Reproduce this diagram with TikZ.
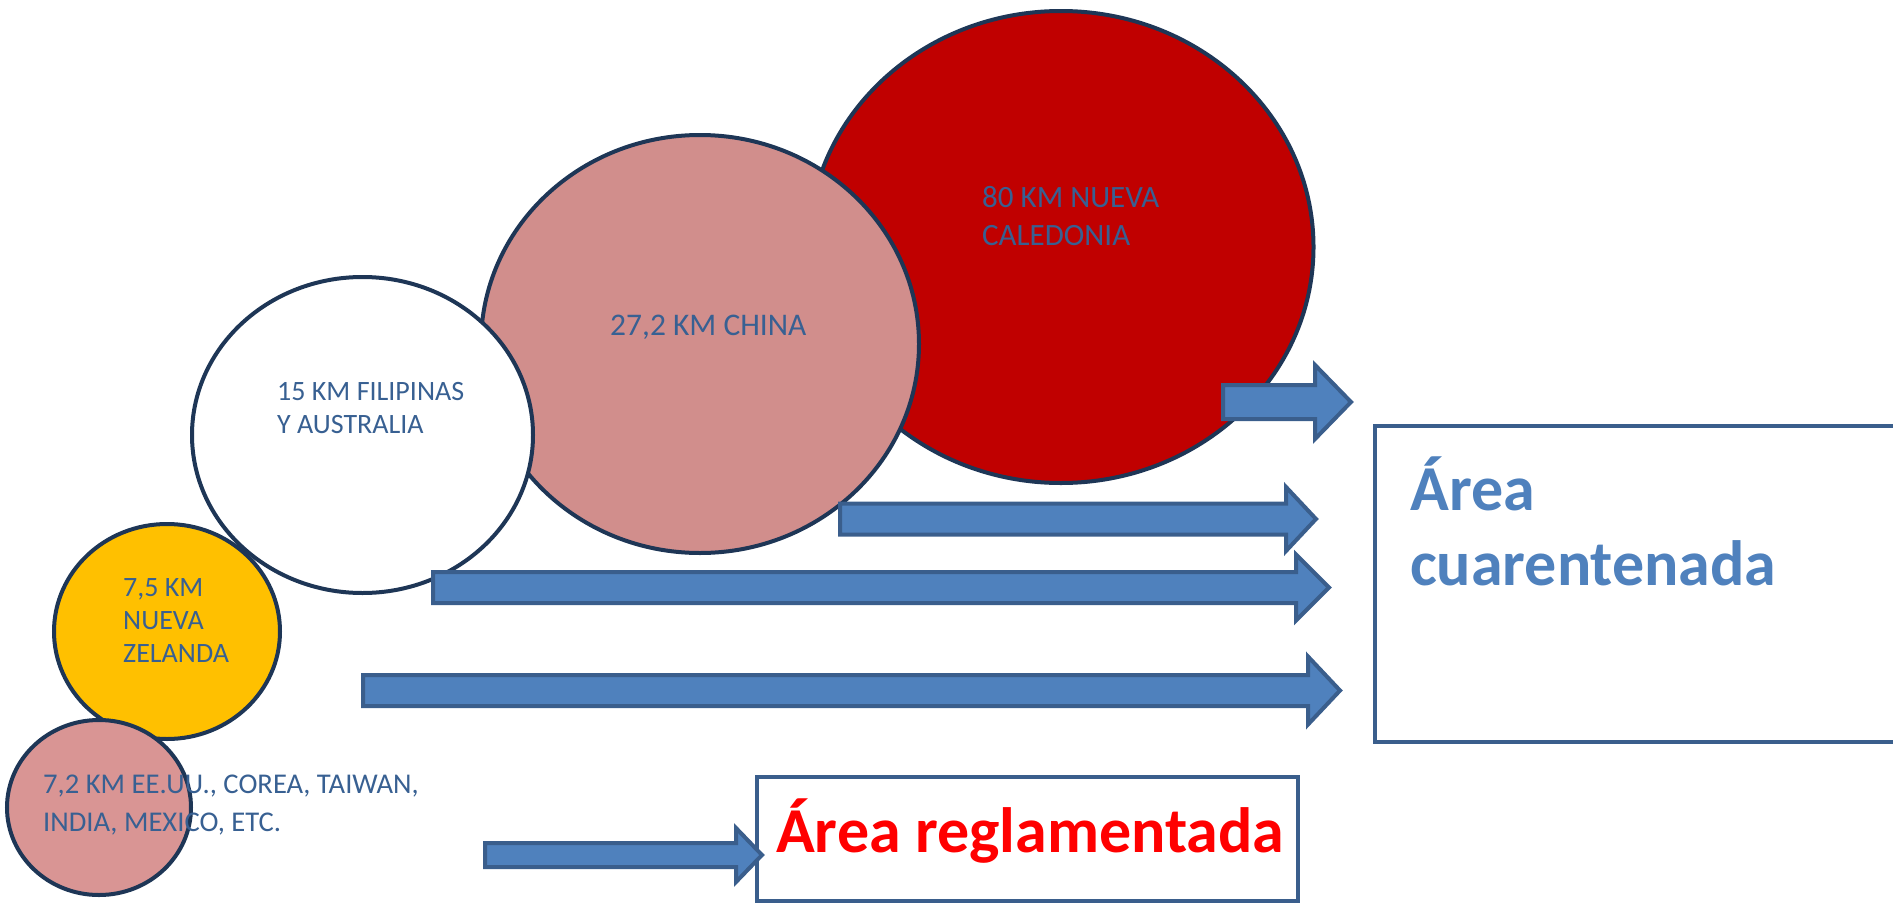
\documentclass[tikz,border=0pt]{standalone}
\usepackage{fontspec}
\setmainfont{Carlito}
\usetikzlibrary{shapes.geometric}
\definecolor{ellline}{RGB}{30,54,86}
\definecolor{redfill}{RGB}{192,0,0}
\definecolor{chinafill}{RGB}{209,142,140}
\definecolor{pinkfill}{RGB}{217,149,148}
\definecolor{yellowfill}{RGB}{255,192,0}
\definecolor{labeltext}{RGB}{56,96,146}
\definecolor{arrowfill}{RGB}{79,129,189}
\definecolor{arrowline}{RGB}{58,94,140}
\definecolor{titleblue}{RGB}{79,129,189}
\definecolor{titlered}{RGB}{255,0,0}
\tikzset{
  blob/.style={ellipse, draw=ellline, line width=4pt, inner sep=0pt},
  lbl/.style={anchor=base west, inner sep=0pt, text=labeltext, font=\fontsize{28}{33}\selectfont, align=left},
  bigtitle/.style={anchor=base west, inner sep=0pt, font=\bfseries\fontsize{64}{75}\selectfont, align=left},
  areabox/.style={draw=arrowline, line width=4pt, fill=white},
  blockarrow/.style={draw=arrowline, fill=arrowfill, line width=4pt, line join=miter}
}
% #1 left x, #2 centre y, #3 body half height, #4 head base x, #5 head half height, #6 tip x
\newcommand\blockarr[6]{%
  \path[blockarrow] (#1,#2-#3) -- (#4,#2-#3) -- (#4,#2-#5) -- (#6,#2) -- (#4,#2+#5) -- (#4,#2+#3) -- (#1,#2+#3) -- cycle;}
\begin{document}
\begin{tikzpicture}[x=1pt,y=-1pt]
\useasboundingbox (0,0) rectangle (1893,905);
% ellipses
\node[blob, fill=redfill, minimum width=505pt, minimum height=472pt] (nc) at (1061,247) {};
\node[blob, fill=chinafill, minimum width=438pt, minimum height=418pt] (cn) at (700,344) {};
\node[blob, fill=white, minimum width=341pt, minimum height=316pt] (ph) at (362.5,435) {};
\node[blob, fill=yellowfill, minimum width=226pt, minimum height=215pt] (nz) at (167,631.5) {};
\node[blob, fill=pinkfill, minimum width=184pt, minimum height=175pt] (us) at (99,807.5) {};
% labels (anchored at the baseline of the last line)
\node[lbl, font=\fontsize{31}{38}\selectfont] (tnc) at (982,245) {80 KM NUEVA\\CALEDONIA};
\node[lbl, font=\fontsize{31.5}{38}\selectfont] (tcn) at (610,335) {27,2 KM CHINA};
\node[lbl] (tph) at (277,433) {15 KM FILIPINAS\\Y AUSTRALIA};
\node[lbl] (tnz) at (123,662) {7,5 KM\\NUEVA\\ZELANDA};
\node[lbl, font=\fontsize{28.6}{38}\selectfont] (tus) at (43,831) {7,2 KM EE.UU., COREA, TAIWAN,\\INDIA, MEXICO, ETC.};
% boxes
\draw[areabox] (1375,426) rectangle (1905,742);
\node[bigtitle, text=titleblue] (tq) at (1410,585.5) {Área\\cuarentenada};
\draw[areabox] (757,777) rectangle (1298,901);
\node[bigtitle, text=titlered] (tr) at (776,852.5) {Área reglamentada};
% arrows
\blockarr{1223}{402}{17}{1315}{37}{1351}
\blockarr{840}{519}{15.5}{1286}{32}{1316}
\blockarr{433}{587.5}{15.5}{1296}{33}{1329}
\blockarr{363}{690.5}{15.5}{1308}{34}{1340}
\blockarr{485}{855}{12}{736}{27}{762}
\end{tikzpicture}
\end{document}
